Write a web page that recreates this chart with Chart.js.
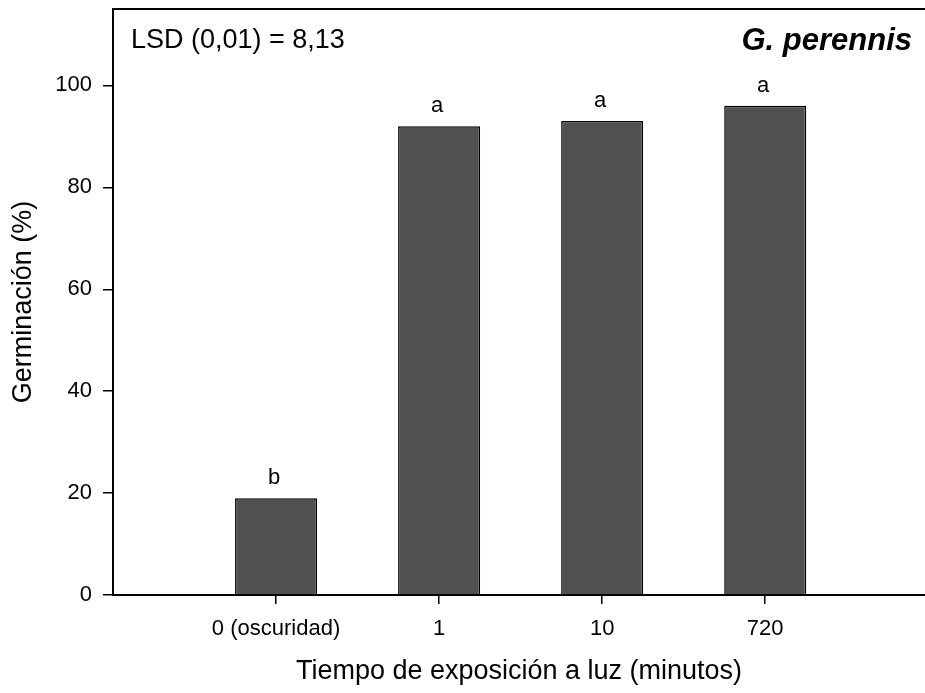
<!DOCTYPE html>
<html lang="es">
<head>
<meta charset="utf-8">
<title>Germinación - G. perennis</title>
<script src="https://cdn.jsdelivr.net/npm/chart.js@4.4.1/dist/chart.umd.min.js"></script>
<style>
  html, body { margin: 0; padding: 0; background: #fff; }
  canvas { display: block; }
</style>
</head>
<body>
<canvas id="germChart" width="925" height="693"></canvas>
<script>
// --- Datos ---
const categories = ['0 (oscuridad)', '1', '10', '720'];
const xPositions = [1, 2, 3, 4];
const germination = [19, 92, 93, 96];
const lsdLetters = ['b', 'a', 'a', 'a'];
const yTicks = [0, 20, 40, 60, 80, 100];
const lsdText = 'LSD (0,01) = 8,13';
const speciesName = 'G. perennis';

const FONT = '"Liberation Sans", Arial, Helvetica, sans-serif';

// Borde superior, textos y letras de significancia
const annotations = {
  id: 'annotations',
  afterDraw(chart) {
    const { ctx, chartArea } = chart;
    ctx.save();
    ctx.strokeStyle = '#000';
    ctx.lineWidth = 2;
    ctx.beginPath();
    ctx.moveTo(chartArea.left, chartArea.top);
    ctx.lineTo(chartArea.right, chartArea.top);
    ctx.stroke();

    ctx.fillStyle = '#000';
    ctx.textBaseline = 'alphabetic';
    ctx.font = '27px ' + FONT;
    ctx.textAlign = 'left';
    ctx.fillText(lsdText, chartArea.left + 18, chartArea.top + 39);

    ctx.font = 'italic bold 31px ' + FONT;
    ctx.textAlign = 'right';
    ctx.fillText(speciesName, chartArea.right - 13, chartArea.top + 41);

    // letra sobre cada barra
    ctx.font = '22px ' + FONT;
    ctx.textAlign = 'center';
    const meta = chart.getDatasetMeta(0);
    meta.data.forEach((bar, i) => {
      ctx.fillText(lsdLetters[i], bar.x - 2, bar.y - 14);
    });
    ctx.restore();
  }
};

// sin márgenes extra por etiquetas en los extremos
function noEdgePadding(scale) {
  scale.paddingTop = 0;
  scale.paddingBottom = 0;
  scale.paddingLeft = 0;
  scale.paddingRight = 0;
}

new Chart(document.getElementById('germChart'), {
  type: 'bar',
  data: {
    datasets: [{
      data: xPositions.map((x, i) => ({ x: x, y: germination[i] })),
      backgroundColor: '#505050',
      borderColor: '#000',
      borderWidth: 1.5,
      categoryPercentage: 1,
      barPercentage: 0.503
    }]
  },
  options: {
    responsive: false,
    animation: false,
    layout: { padding: { top: 9, right: 0, bottom: 0, left: 0 } },
    plugins: {
      legend: { display: false },
      tooltip: { enabled: false }
    },
    scales: {
      x: {
        type: 'linear',
        min: 0,
        max: 4.98,
        offset: false,
        afterBuildTicks: (scale) => { scale.ticks = xPositions.map(v => ({ value: v })); },
        afterFit: (scale) => { scale.height = 98; noEdgePadding(scale); },
        grid: { offset: false, drawOnChartArea: false, drawTicks: true, tickLength: 9, color: '#000', lineWidth: 1.5 },
        border: { display: true, color: '#000', width: 2 },
        ticks: {
          color: '#000',
          font: { family: FONT, size: 22 },
          padding: 12,
          maxRotation: 0,
          autoSkip: false,
          callback: (value) => categories[xPositions.indexOf(value)] ?? ''
        },
        title: {
          display: true,
          text: 'Tiempo de exposición a luz (minutos)',
          color: '#000',
          font: { family: FONT, size: 27 },
          padding: { top: 0, bottom: 5 }
        }
      },
      y: {
        min: 0,
        max: 115,
        afterBuildTicks: (scale) => { scale.ticks = yTicks.map(v => ({ value: v })); },
        afterFit: (scale) => { scale.width = 113; noEdgePadding(scale); },
        grid: { drawOnChartArea: false, drawTicks: true, tickLength: 10, color: '#000', lineWidth: 1.5 },
        border: { display: true, color: '#000', width: 2 },
        ticks: {
          color: '#000',
          font: { family: FONT, size: 22 },
          padding: 11
        },
        title: {
          display: true,
          text: 'Germinación (%)',
          color: '#000',
          font: { family: FONT, size: 27 },
          padding: { top: 7, bottom: 0 }
        }
      }
    }
  },
  plugins: [annotations]
});
</script>
</body>
</html>
